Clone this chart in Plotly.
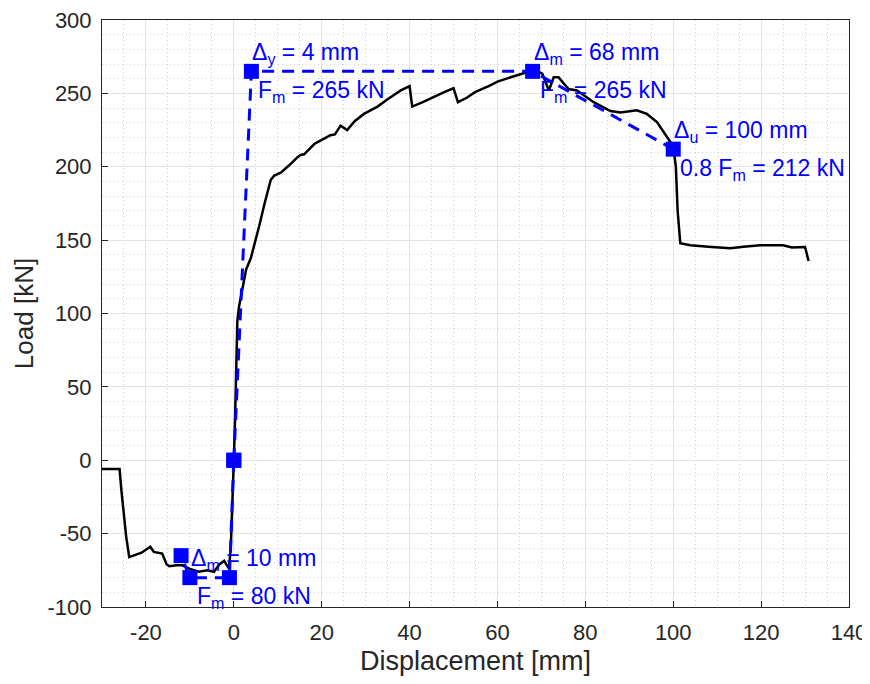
import plotly.graph_objects as go

# measured load-displacement curve
disp = [-30, -26, -25.6, -25.0, -24.5, -23.8, -21, -19, -18.2, -16.3, -15.3, -14.7,
        -13, -11.7, -10, -8, -6, -4.5, -3.3, -2.2, -1.1, -0.7, -0.3, 0, 0.3, 0.6,
        0.8, 1.2, 2, 2.8, 3.9, 5, 5.8, 7, 8.4, 9.2, 10.7, 12.2, 12.6, 14.5, 15.2,
        16, 18.3, 19.8, 22, 23, 24.3, 25.8, 27.5, 29.6, 32.7, 35, 38, 40, 40.6,
        43, 45, 48, 50, 51, 53, 55, 58, 60, 63, 65, 67, 68.5, 70.2, 71, 71.7,
        72.8, 73.9, 75, 76.2, 78.1, 80, 81.9, 85.7, 88, 91.7, 94, 96.3, 98.9,
        100, 100.6, 101, 101.6, 103.9, 108, 113, 116, 119.8, 125, 127, 130, 130.8]
load = [-6, -6, -20, -40, -52, -66, -63, -59, -62.5, -63.6, -70.9, -72.2,
        -71.5, -71.6, -74, -76, -75, -76, -71, -68.6, -73.8, -60, -30, 0, 30, 60,
        95, 105, 118, 130, 138, 150, 160, 175, 191, 194, 196, 200, 201, 206.5, 208,
        208.5, 215.5, 218, 221.5, 222, 228, 225, 231, 236, 241, 246, 252, 255, 241,
        244, 247, 251, 253.5, 244, 247, 251, 255, 258, 261, 263, 265, 266, 263.5, 258, 252,
        261, 261, 257, 253, 252, 248, 244, 238, 237, 238.5, 236, 230.5, 219,
        214, 200, 170, 147.9, 146.5, 145.5, 144.5, 145.5, 146.5, 146.5, 145, 145.3, 135.8]

# idealised bilinear envelope, positive and negative branch
pos_x = [0, 4, 68, 100]
pos_y = [0, 265, 265, 212]
neg_x = [0, -1, -10, -12]
neg_y = [0, -80, -80, -65]

x_ticks = [-20, 0, 20, 40, 60, 80, 100, 120, 140]
y_ticks = [-100, -50, 0, 50, 100, 150, 200, 250, 300]

# labelled points: (x, y, upper text, lower text)
labels = [
    (4, 265, "Δ<sub>y</sub> = 4 mm", "F<sub>m</sub> = 265 kN"),
    (68, 265, "Δ<sub>m</sub> = 68 mm", "F<sub>m</sub> = 265 kN"),
    (100, 212, "Δ<sub>u</sub> = 100 mm", "0.8 F<sub>m</sub> = 212 kN"),
    (-10, -80, "Δ<sub>m</sub> = 10 mm", "F<sub>m</sub> = 80 kN"),
]

BLUE = "#0000ff"
AX = "#262626"
FONT = "Liberation Sans, Arial, sans-serif"

fig = go.Figure()

fig.add_trace(go.Scatter(
    x=disp, y=load, mode="lines",
    line=dict(color="black", width=2.5),
))

for bx, by in [(pos_x, pos_y), (neg_x, neg_y)]:
    fig.add_trace(go.Scatter(
        x=bx, y=by, mode="lines+markers",
        line=dict(color=BLUE, width=3, dash="12px,8px"),
        marker=dict(symbol="square", size=15, color=BLUE),
    ))

for lx, ly, upper, lower in labels:
    fig.add_annotation(x=lx, y=ly, text=upper, showarrow=False,
                       xanchor="left", yanchor="middle", xshift=-1, yshift=18,
                       font=dict(size=23, color=BLUE, family=FONT))
    fig.add_annotation(x=lx, y=ly, text=lower, showarrow=False,
                       xanchor="left", yanchor="middle", xshift=5, yshift=-20,
                       font=dict(size=23, color=BLUE, family=FONT))

axis_style = dict(
    showline=True, linecolor=AX, linewidth=1, mirror=True,
    ticks="inside", ticklen=6, tickcolor=AX,
    showgrid=True, gridcolor="#e4e4e4", gridwidth=1,
    zeroline=False, automargin=False, ticklabeloverflow="allow",
    tickfont=dict(size=22, color=AX, family=FONT),
)

fig.update_xaxes(
    range=[-30, 140], tickvals=x_ticks, ticktext=[str(v) for v in x_ticks],
    ticklabelstandoff=6,
    title=dict(text="Displacement [mm]", font=dict(size=27, color=AX, family=FONT), standoff=6),
    minor=dict(dtick=5, showgrid=True, gridcolor="#d4d4d4", griddash="1px,3px", ticks=""),
    **axis_style,
)
fig.update_yaxes(
    range=[-100, 300], tickvals=y_ticks, ticktext=[str(v) for v in y_ticks],
    ticklabelstandoff=5,
    title=dict(text="Load [kN]", font=dict(size=26, color=AX, family=FONT), standoff=6),
    minor=dict(dtick=10, showgrid=True, gridcolor="#d4d4d4", griddash="1px,3px", ticks=""),
    **axis_style,
)

# page body adds an 8px offset, margins compensate for it
fig.update_layout(
    width=870, height=684,
    margin=dict(l=94, r=29, t=12, b=85),
    paper_bgcolor="white", plot_bgcolor="white",
    showlegend=False,
    font=dict(family=FONT),
)

fig.write_html("out.html")
